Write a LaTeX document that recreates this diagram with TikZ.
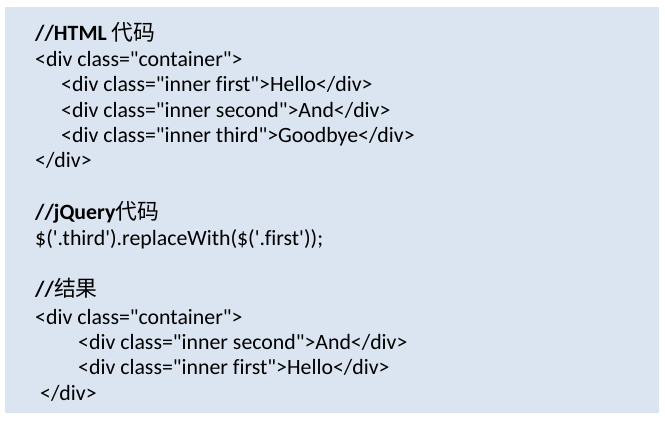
\documentclass[tikz,border=0pt]{standalone}
\usepackage{fontspec}
\setmainfont{Carlito}[Ligatures={TeXOff,CommonOff}]
\newfontfamily\cjk{Noto Sans CJK SC}
\definecolor{panel}{HTML}{DBE5F1}
\begin{document}
\begin{tikzpicture}[x=1bp,y=-1bp,
  txt/.style={anchor=base west,inner sep=0pt,font=\fontsize{21.9}{26}\selectfont,text=black}]
\fill[white] (0,0) rectangle (665,421);
\useasboundingbox (0,0) rectangle (665,421);
\fill[panel] (5,7) rectangle (659,413);
\node[txt] (h1) at (35,40) {\textbf{//HTML} {\cjk 代码}};
\node[txt] (c1) at (35,66) {<div class="container">};
\node[txt] (c2) at (61,91) {<div class="inner first">Hello</div>};
\node[txt] (c3) at (61,117) {<div class="inner second">And</div>};
\node[txt] (c4) at (61,142) {<div class="inner third">Goodbye</div>};
\node[txt] (c5) at (35,167) {</div>};
\node[txt] (h2) at (35,219) {\textbf{//jQuery}{\cjk 代码}};
\node[txt] (j1) at (35,245) {\$('.third').replaceWith(\$('.first'));};
\node[txt] (h3) at (35,296) {\textbf{//}{\cjk 结果}};
\node[txt] (r1) at (35,324) {<div class="container">};
\node[txt] (r2) at (78,349) {<div class="inner second">And</div>};
\node[txt] (r3) at (78,374) {<div class="inner first">Hello</div>};
\node[txt] (r4) at (40,400) {</div>};
\end{tikzpicture}
\end{document}
